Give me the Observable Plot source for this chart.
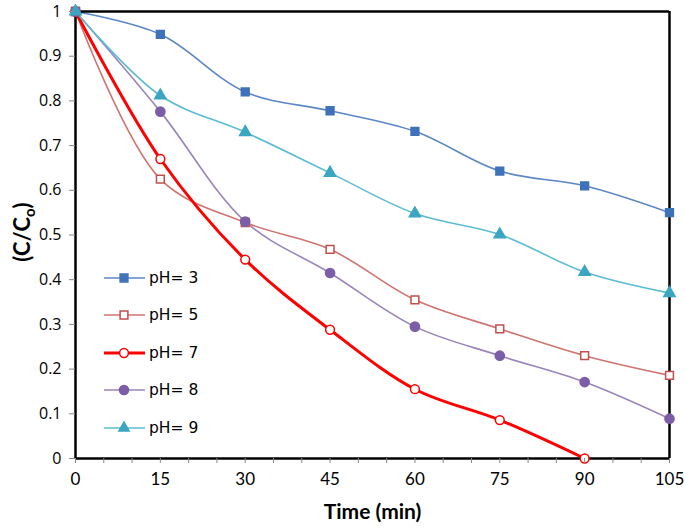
<!DOCTYPE html>
<html>
<head>
<meta charset="utf-8">
<script src="https://cdn.jsdelivr.net/npm/d3@7"></script>
<script src="https://cdn.jsdelivr.net/npm/@observablehq/plot@0.6"></script>
<style>
  html, body { margin: 0; padding: 0; background: #fff; }
  #wrap { position: relative; width: 685px; height: 531px; }
  #legend { position: absolute; left: 103px; top: 259px; font-family: "DejaVu Sans", sans-serif; font-size: 15.5px; color: #000; }
  #legend .row { display: flex; align-items: center; height: 37.5px; }
  #legend svg { display: block; }
</style>
</head>
<body>
<div id="wrap"><div id="legend"></div></div>
<script>
const times = [0, 15, 30, 45, 60, 75, 90, 105];
const pH3 = [1, 0.949, 0.82, 0.778, 0.732, 0.643, 0.61, 0.55];
const pH5 = [1, 0.625, 0.528, 0.468, 0.355, 0.29, 0.23, 0.186];
const pH7 = [1, 0.67, 0.445, 0.288, 0.155, 0.086, 0.0];
const pH8 = [1, 0.776, 0.53, 0.415, 0.295, 0.23, 0.171, 0.089];
const pH9 = [1, 0.812, 0.73, 0.639, 0.548, 0.501, 0.417, 0.37];
const seriesNames = ["pH= 3", "pH= 5", "pH= 7", "pH= 8", "pH= 9"];
const xTicks = [0, 15, 30, 45, 60, 75, 90, 105];
const yTicks = [0, 0.1, 0.2, 0.3, 0.4, 0.5, 0.6, 0.7, 0.8, 0.9, 1];

const styles = [
  {line: "#5B87C7", fill: "#3F72B8", stroke: "#3F72B8", symbol: "square", r: 4.4, w: 1.6},
  {line: "#D07470", fill: "white", stroke: "#C0504D", symbol: "square", r: 4.4, w: 1.6},
  {line: "#FF0000", fill: "white", stroke: "#FF0000", symbol: "circle", r: 4.4, w: 3},
  {line: "#9A85BA", fill: "#7B5EA7", stroke: "#7B5EA7", symbol: "circle", r: 4.6, w: 1.6},
  {line: "#5BBCD3", fill: "#3BA6C1", stroke: "#3BA6C1", symbol: "triangle", r: 4.2, w: 1.6}
];
const allSeries = [pH3, pH5, pH7, pH8, pH9];
const data = [];
allSeries.forEach((vals, i) => vals.forEach((v, j) => data.push({t: times[j], c: v, s: i})));

const marks = [];
styles.forEach((st, i) => {
  const d = data.filter(p => p.s === i);
  marks.push(Plot.line(d, {x: "t", y: "c", stroke: st.line, strokeWidth: st.w, curve: "catmull-rom"}));
});
marks.push(Plot.ruleY([0], {stroke: "black", strokeWidth: 2.5}));
marks.push(Plot.ruleX([0], {stroke: "black", strokeWidth: 2.5}));
marks.push(Plot.ruleY([1], {stroke: "black", strokeWidth: 2.5}));
marks.push(Plot.ruleX([105], {stroke: "black", strokeWidth: 2.5}));
styles.forEach((st, i) => {
  const d = data.filter(p => p.s === i);
  marks.push(Plot.dot(d, {x: "t", y: "c", symbol: () => st.symbol, r: st.r, fill: st.fill, stroke: st.stroke, strokeWidth: 1.5}));
});
marks.push(Plot.axisX(d3.range(0, 106, 5), {tickSize: 5, stroke: "#888", text: null, tickPadding: 0, label: null}));
marks.push(Plot.axisX(xTicks, {tickSize: 0, tickPadding: 14, fontSize: 17, fontFamily: "Lato, sans-serif", fill: "#000", label: null}));
marks.push(Plot.axisY(yTicks, {tickSize: 6, stroke: "#888", tickPadding: 8, fontSize: 16, fontFamily: "'Open Sans', sans-serif", fill: "#000", label: null, tickFormat: d => (d === 0 || d === 1) ? String(d) : d.toFixed(1)}));
marks.push(Plot.text(["Time (min)"], {frameAnchor: "bottom", dy: 60, fontSize: 21, fontWeight: "bold", fontFamily: "Lato, sans-serif", fill: "#000"}));

const chart = Plot.plot({
  width: 685, height: 531,
  marginLeft: 75, marginRight: 16, marginTop: 11, marginBottom: 73,
  x: {domain: [0, 105]},
  y: {domain: [0, 1]},
  style: {background: "white", overflow: "visible"},
  marks
});
document.getElementById("wrap").prepend(chart);

// y axis label with subscript
const svg = d3.select(chart);
const yl = svg.append("text")
  .attr("transform", "translate(30, 232) rotate(-90)")
  .attr("text-anchor", "middle")
  .attr("font-family", "Lato, sans-serif")
  .attr("font-size", 22)
  .attr("font-weight", "bold")
  .attr("fill", "#000");
yl.append("tspan").text("(C/C");
yl.append("tspan").attr("font-size", 15).attr("dy", 5).text("o");
yl.append("tspan").attr("dy", -5).text(")");

// legend
const leg = d3.select("#legend");
styles.forEach((st, i) => {
  const row = leg.append("div").attr("class", "row");
  const s = row.append("svg").attr("width", 44).attr("height", 16);
  s.append("line").attr("x1", 1).attr("x2", 42).attr("y1", 8).attr("y2", 8).attr("stroke", st.line).attr("stroke-width", st.w);
  const sym = st.symbol === "square" ? d3.symbolSquare : st.symbol === "circle" ? d3.symbolCircle : d3.symbolTriangle;
  const size = st.symbol === "triangle" ? 45 : Math.PI * st.r * st.r;
  s.append("path").attr("transform", "translate(21,8)").attr("d", d3.symbol(sym, size)())
    .attr("fill", st.fill).attr("stroke", st.stroke).attr("stroke-width", 1.5);
  row.append("span").style("margin-left", "2px").text(seriesNames[i]);
});
</script>
</body>
</html>
